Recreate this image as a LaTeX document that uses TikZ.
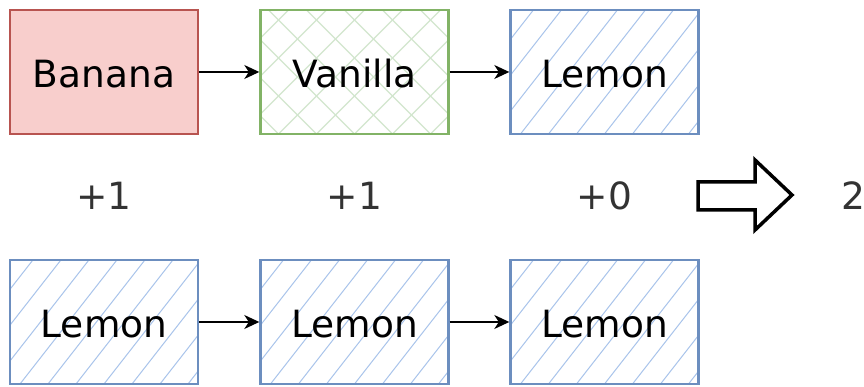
\documentclass[tikz,border=0pt]{standalone}
\usepackage{fontspec}
\setmainfont{DejaVu Sans}
\usetikzlibrary{arrows.meta}
\definecolor{redline}{HTML}{B85450}
\definecolor{redfill}{HTML}{F8CECC}
\definecolor{greenline}{HTML}{82B366}
\definecolor{greenhatch}{HTML}{D2E6CE}
\definecolor{blueline}{HTML}{6C8EBF}
\definecolor{bluehatch}{HTML}{A9C4EB}
\definecolor{labeltext}{HTML}{333333}
\tikzset{
  box/.style={draw, line width=2.4pt, minimum width=188pt, minimum height=124pt,
    inner sep=0pt, text height=32pt, text depth=0pt,
    font=\fontsize{37.5}{44}\selectfont, text=black},
  bananabox/.style={box, draw=redline, fill=redfill},
  % single hatch: parallel lines rising to the right
  lemonbox/.style={box, draw=blueline, fill=white,
    path picture={
      \foreach \k in {-8,...,8}
        \draw[bluehatch, line width=1pt]
          ([xshift=\k*28pt]path picture bounding box.south) -- ++(52:260pt)
          ([xshift=\k*28pt]path picture bounding box.south) -- ++(232:260pt);
    }},
  % cross hatch: two families of lines at right angles
  vanillabox/.style={box, draw=greenline, fill=white,
    path picture={
      \foreach \k in {-7,...,7} {
        \draw[greenhatch, line width=1.2pt]
          ([xshift=\k*38pt]path picture bounding box.south) -- ++(45:260pt)
          ([xshift=\k*38pt]path picture bounding box.south) -- ++(225:260pt);
        \draw[greenhatch, line width=1.2pt]
          ([xshift=\k*38pt]path picture bounding box.south) -- ++(135:260pt)
          ([xshift=\k*38pt]path picture bounding box.south) -- ++(-45:260pt);
      }
    }},
  conn/.style={line width=1.4pt, -{Stealth[length=15pt, width=14pt, inset=4.5pt]}},
  score/.style={anchor=base, font=\fontsize{37.5}{44}\selectfont, text=labeltext, inner sep=0pt},
}
\begin{document}
\begin{tikzpicture}[x=1pt, y=1pt]
  \fill[white] (0,0) rectangle (864,387);
  \useasboundingbox (0,0) rectangle (864,387);

  % upper sequence
  \node[bananabox] (t1) at (104,315) {Banana};
  \node[vanillabox] (t2) at (354.5,315) {Vanilla};
  \node[lemonbox] (t3) at (604.5,315) {Lemon};

  % lower sequence
  \node[lemonbox] (b1) at (104,65) {Lemon};
  \node[lemonbox] (b2) at (354.5,65) {Lemon};
  \node[lemonbox] (b3) at (604.5,65) {Lemon};

  \draw[conn] (t1.east) -- (t2.west);
  \draw[conn] (t2.east) -- (t3.west);
  \draw[conn] (b1.east) -- (b2.west);
  \draw[conn] (b2.east) -- (b3.west);

  % per-position scores
  \node[score] (s1) at (104,177) {+1};
  \node[score] (s2) at (354.5,177) {+1};
  \node[score] (s3) at (604.5,177) {+0};

  % block arrow pointing to the total
  \draw[line width=3.5pt, line join=miter, fill=white]
    (698,205) -- (755,205) -- (755,227) -- (792,192) -- (755,157)
    -- (755,177) -- (698,177) -- cycle;
  \node[score, anchor=base west] (total) at (841,177) {2};
\end{tikzpicture}
\end{document}
